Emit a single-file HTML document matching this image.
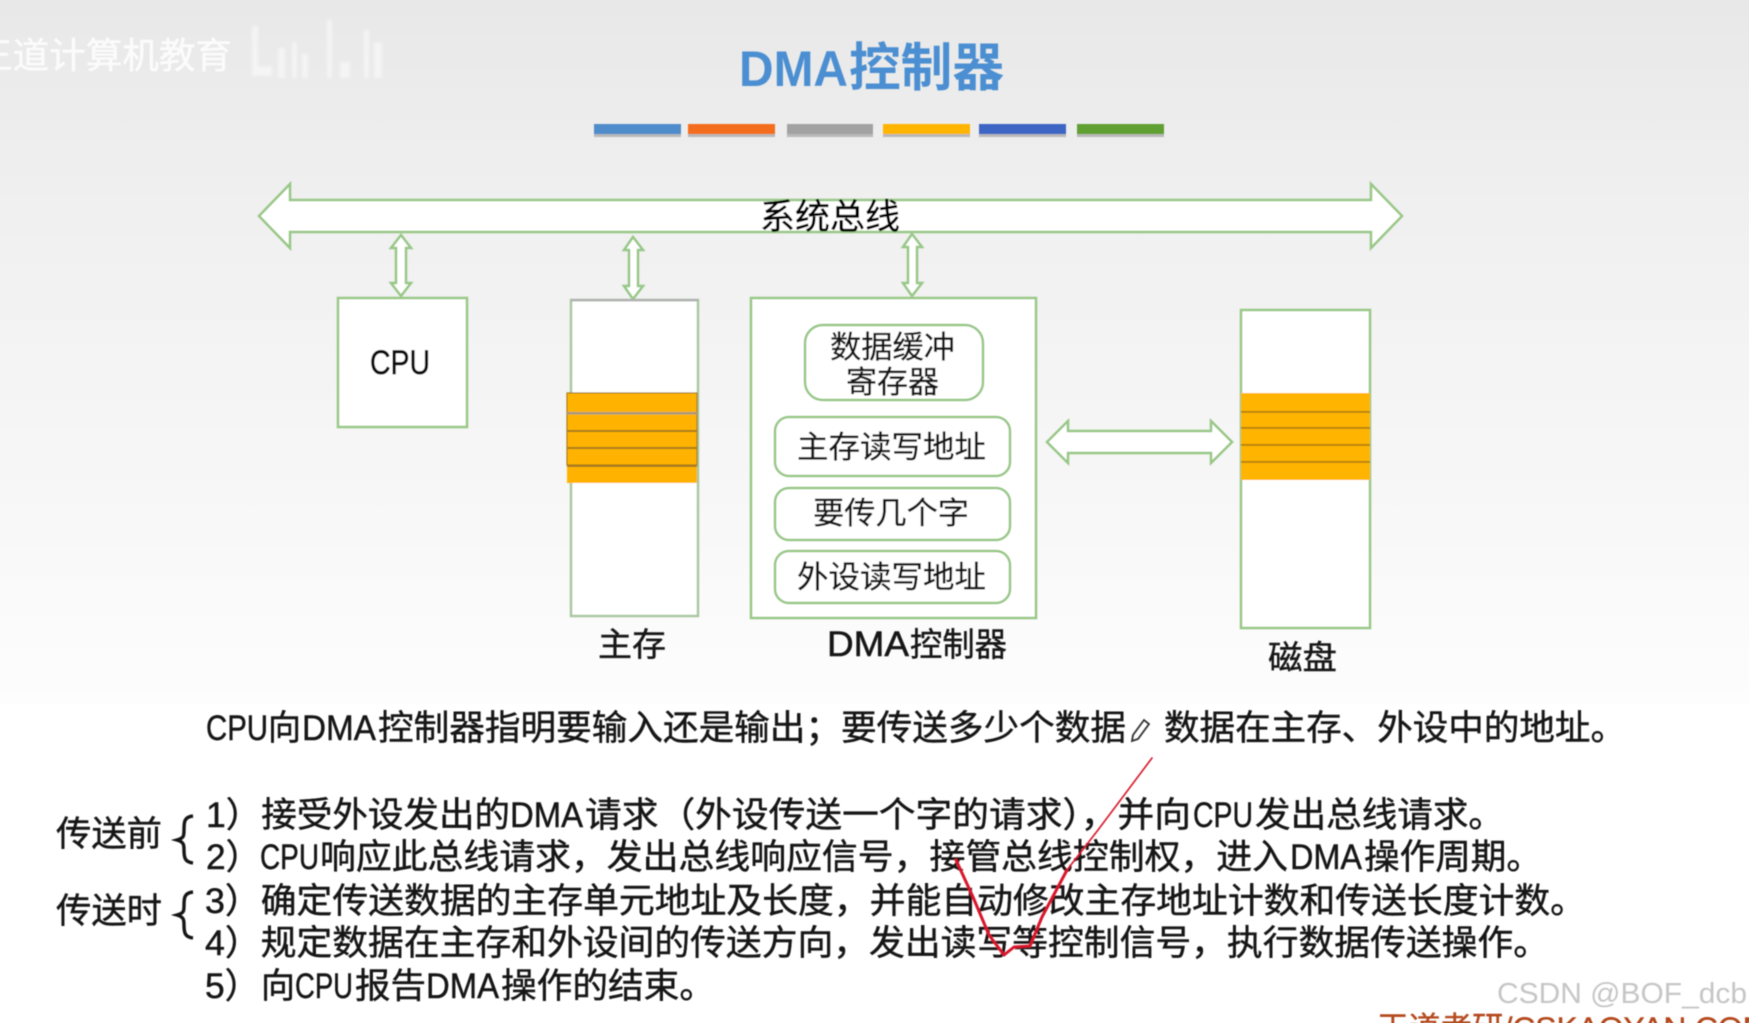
<!DOCTYPE html>
<html lang="zh">
<head>
<meta charset="utf-8">
<title>DMA控制器</title>
<style>
html,body{margin:0;padding:0;background:#fff;width:1749px;height:1023px;overflow:hidden}
svg{display:block}
text{font-family:"Liberation Sans","Noto Sans CJK SC",sans-serif;fill:#161616}
.t{font-size:35px;stroke:#161616;stroke-width:.45px}
.l{font-size:33px;stroke:#161616;stroke-width:.4px}
.b{font-size:31px;stroke:#222;stroke-width:.35px}
.s{fill:#fff;stroke:#97c786;stroke-width:2.5}
</style>
</head>
<body>
<svg width="1749" height="1023" viewBox="0 0 1749 1023" xmlns="http://www.w3.org/2000/svg">
<defs>
<linearGradient id="bg" x1="0" y1="0" x2="0" y2="1">
<stop offset="0" stop-color="#e8e8e8"/>
<stop offset=".3" stop-color="#f0f0f0"/>
<stop offset=".7" stop-color="#f7f7f7"/>
<stop offset="1" stop-color="#fdfdfd"/>
</linearGradient>
<filter id="soft" x="-5%" y="-5%" width="110%" height="110%"><feGaussianBlur stdDeviation="0.55"/></filter>
<filter id="smudge" x="-20%" y="-20%" width="140%" height="140%"><feGaussianBlur stdDeviation="1.4"/></filter>
</defs>

<rect width="1749" height="1023" fill="#fff"/>
<rect width="1749" height="704" fill="url(#bg)"/>

<g filter="url(#soft)">
<!-- watermark top-left -->
<text x="-24" y="68" font-size="36" style="fill:#fbfbfb;stroke:#fbfbfb;stroke-width:.5px" textLength="256" lengthAdjust="spacingAndGlyphs">王道计算机教育</text>
<g fill="#fafafa" opacity=".65" filter="url(#smudge)">
<rect x="252" y="26" width="6" height="50"/>
<rect x="258" y="66" width="14" height="10"/>
<rect x="278" y="48" width="7" height="30"/>
<rect x="292" y="42" width="5" height="36"/>
<rect x="302" y="54" width="6" height="24"/>
<rect x="327" y="20" width="5" height="58"/>
<rect x="340" y="62" width="10" height="16"/>
<rect x="364" y="30" width="5" height="48"/>
<rect x="374" y="42" width="8" height="36"/>
</g>

<!-- title -->
<text x="739" y="86" font-size="50" font-weight="700" style="fill:#4b8fd2" textLength="109" lengthAdjust="spacingAndGlyphs">DMA</text>
<text x="849" y="86" font-size="52" font-weight="700" style="fill:#4b8fd2" textLength="155" lengthAdjust="spacingAndGlyphs">控制器</text>

<!-- colour bars -->
<g>
<rect x="594" y="127" width="87" height="10" fill="#8d8d8d" opacity=".55"/>
<rect x="688" y="127" width="87" height="10" fill="#8d8d8d" opacity=".55"/>
<rect x="787" y="127" width="86" height="10" fill="#8d8d8d" opacity=".55"/>
<rect x="883" y="127" width="87" height="10" fill="#8d8d8d" opacity=".55"/>
<rect x="979" y="127" width="87" height="10" fill="#8d8d8d" opacity=".55"/>
<rect x="1077" y="127" width="87" height="10" fill="#8d8d8d" opacity=".55"/>
<rect x="594" y="124" width="87" height="10" fill="#4f8ccb"/>
<rect x="688" y="124" width="87" height="10" fill="#f46d1c"/>
<rect x="787" y="124" width="86" height="10" fill="#a2a2a2"/>
<rect x="883" y="124" width="87" height="10" fill="#ffb500"/>
<rect x="979" y="124" width="87" height="10" fill="#3e66c4"/>
<rect x="1077" y="124" width="87" height="10" fill="#609f30"/>
</g>

<!-- system bus -->
<polygon class="s" points="259,216 290,184 290,200 1371,200 1371,184 1402,216 1371,248 1371,232 290,232 290,248"/>
<text class="t" x="760" y="229" textLength="140" lengthAdjust="spacingAndGlyphs" style="fill:#000;stroke:#000">系统总线</text>

<!-- vertical arrows -->
<polygon class="s" points="401,235 411,248 406,248 406,283 411,283 401,296 391,283 396,283 396,248 391,248"/>
<polygon class="s" points="633,237 643,250 638,250 638,286 643,286 633,299 624,286 629,286 629,250 624,250"/>
<polygon class="s" points="912,234 922,247 917,247 917,283 922,283 912,296 903,283 908,283 908,247 903,247"/>

<!-- CPU -->
<rect class="s" x="338" y="298" width="129" height="129"/>
<text x="370" y="374" font-size="34" style="stroke:#111;stroke-width:.7px;fill:#111" textLength="60" lengthAdjust="spacingAndGlyphs">CPU</text>

<!-- main memory -->
<rect class="s" x="571" y="300" width="127" height="316" style="stroke:#a9c7a0"/>
<rect x="571" y="299" width="127" height="2.4" fill="#b0b0b0"/>
<rect x="567" y="393" width="130" height="90" fill="#ffb300"/>
<rect x="567" y="393" width="130" height="72" fill="none" stroke="#a87c1a" stroke-width="1.2"/>
<rect x="567" y="412" width="130" height="2.5" fill="#a79a7c"/>
<rect x="567" y="430" width="130" height="2" fill="#a87c1a"/>
<rect x="567" y="447" width="130" height="2" fill="#a87c1a"/>
<rect x="567" y="465" width="130" height="2" fill="#a87c1a"/>
<text class="l" x="598" y="656" textLength="68" lengthAdjust="spacingAndGlyphs">主存</text>

<!-- DMA controller -->
<rect class="s" x="751" y="298" width="285" height="320"/>
<rect class="s" x="805" y="325" width="178" height="75" rx="18"/>
<text class="b" x="830" y="358" textLength="125" lengthAdjust="spacingAndGlyphs">数据缓冲</text>
<text class="b" x="846" y="393" textLength="93" lengthAdjust="spacingAndGlyphs">寄存器</text>
<rect class="s" x="775" y="417" width="235" height="59" rx="14"/>
<text class="b" x="797" y="458" textLength="189" lengthAdjust="spacingAndGlyphs">主存读写地址</text>
<rect class="s" x="775" y="488" width="235" height="52" rx="14"/>
<text class="b" x="813" y="524" textLength="156" lengthAdjust="spacingAndGlyphs">要传几个字</text>
<rect class="s" x="775" y="551" width="235" height="52" rx="14"/>
<text class="b" x="797" y="588" textLength="189" lengthAdjust="spacingAndGlyphs">外设读写地址</text>
<text x="827" y="656" font-size="35" style="stroke:#111;stroke-width:.5px" textLength="82" lengthAdjust="spacingAndGlyphs">DMA</text>
<text class="l" x="910" y="656" textLength="97" lengthAdjust="spacingAndGlyphs">控制器</text>

<!-- horizontal double arrow -->
<polygon class="s" points="1047,442 1068,421 1068,431 1211,431 1211,421 1232,442 1211,463 1211,453 1068,453 1068,463"/>

<!-- disk -->
<rect class="s" x="1241" y="310" width="129" height="318"/>
<rect x="1241" y="393" width="129" height="87" fill="#ffb500"/>
<rect x="1241" y="411" width="129" height="1.8" fill="#b37f10"/>
<rect x="1241" y="427" width="129" height="1.8" fill="#b37f10"/>
<rect x="1241" y="444" width="129" height="1.8" fill="#b37f10"/>
<rect x="1241" y="461" width="129" height="1.8" fill="#b37f10"/>
<text class="l" x="1268" y="669" textLength="69" lengthAdjust="spacingAndGlyphs">磁盘</text>

<!-- line 0 -->
<text class="t" x="206" y="740" textLength="62" lengthAdjust="spacingAndGlyphs">CPU</text>
<text class="t" x="268" y="740" textLength="33" lengthAdjust="spacingAndGlyphs">向</text>
<text class="t" x="302" y="740" textLength="74" lengthAdjust="spacingAndGlyphs">DMA</text>
<text class="t" x="378" y="740" textLength="748" lengthAdjust="spacingAndGlyphs">控制器指明要输入还是输出；要传送多少个数据</text>
<text class="t" x="1164" y="740" textLength="462" lengthAdjust="spacingAndGlyphs">数据在主存、外设中的地址。</text>
<!-- pencil cursor -->
<path d="M1133,735 L1144,720 L1149,724 L1138,739 L1132,741 Z" fill="none" stroke="#333" stroke-width="1.8"/>

<!-- line 1 -->
<text class="t" x="206" y="827" textLength="304" lengthAdjust="spacingAndGlyphs">1）接受外设发出的</text>
<text class="t" x="510" y="827" textLength="73" lengthAdjust="spacingAndGlyphs">DMA</text>
<text class="t" x="585" y="827" textLength="606" lengthAdjust="spacingAndGlyphs">请求（外设传送一个字的请求），并向</text>
<text class="t" x="1193" y="827" textLength="60" lengthAdjust="spacingAndGlyphs">CPU</text>
<text class="t" x="1255" y="827" textLength="249" lengthAdjust="spacingAndGlyphs">发出总线请求。</text>

<!-- line 2 -->
<text class="t" x="206" y="869" textLength="55" lengthAdjust="spacingAndGlyphs">2）</text>
<text class="t" x="260" y="869" textLength="59" lengthAdjust="spacingAndGlyphs">CPU</text>
<text class="t" x="320" y="869" textLength="968" lengthAdjust="spacingAndGlyphs">响应此总线请求，发出总线响应信号，接管总线控制权，进入</text>
<text class="t" x="1290" y="869" textLength="72" lengthAdjust="spacingAndGlyphs">DMA</text>
<text class="t" x="1364" y="869" textLength="178" lengthAdjust="spacingAndGlyphs">操作周期。</text>

<!-- line 3 -->
<text class="t" x="205" y="913" textLength="1381" lengthAdjust="spacingAndGlyphs">3）确定传送数据的主存单元地址及长度，并能自动修改主存地址计数和传送长度计数。</text>

<!-- line 4 -->
<text class="t" x="205" y="955" textLength="1344" lengthAdjust="spacingAndGlyphs">4）规定数据在主存和外设间的传送方向，发出读写等控制信号，执行数据传送操作。</text>

<!-- line 5 -->
<text class="t" x="205" y="998" textLength="55" lengthAdjust="spacingAndGlyphs">5）</text>
<text class="t" x="261" y="998" textLength="34" lengthAdjust="spacingAndGlyphs">向</text>
<text class="t" x="295" y="998" textLength="58" lengthAdjust="spacingAndGlyphs">CPU</text>
<text class="t" x="355" y="998" textLength="71" lengthAdjust="spacingAndGlyphs">报告</text>
<text class="t" x="426" y="998" textLength="73" lengthAdjust="spacingAndGlyphs">DMA</text>
<text class="t" x="501" y="998" textLength="214" lengthAdjust="spacingAndGlyphs">操作的结束。</text>

<!-- left labels and braces -->
<text class="t" x="56" y="846" textLength="106" lengthAdjust="spacingAndGlyphs">传送前</text>
<text class="t" x="56" y="923" textLength="106" lengthAdjust="spacingAndGlyphs">传送时</text>
<path d="M193,816 C184,817 184,822 184,830 C184,836 184,838 177,840 C184,842 184,845 184,850 C184,858 185,862 193,863" fill="none" stroke="#161616" stroke-width="3.4"/>
<path d="M193,892 C184,893 184,898 184,906 C184,911 184,913 177,915 C184,917 184,920 184,925 C184,933 185,937 193,938" fill="none" stroke="#161616" stroke-width="3.4"/>

<!-- red check mark -->
<path d="M956,860 L973,897 L989,935 L1004,955 L1014,947 L1030,946 L1042,917 L1067,870" fill="none" stroke="#d8142c" stroke-width="3" stroke-linejoin="round" stroke-linecap="round"/>
<path d="M1067,870 L1098,830 L1152,758" fill="none" stroke="#d8142c" stroke-width="1.6" stroke-linecap="round"/>

<!-- bottom watermarks -->
<text x="1497" y="1003" font-size="29" style="fill:#c6c6c6" textLength="250" lengthAdjust="spacingAndGlyphs">CSDN @BOF_dcb</text>
<text x="1377" y="1038" font-size="30" style="fill:#b4491f;stroke:#b4491f;stroke-width:.4px" textLength="392" lengthAdjust="spacingAndGlyphs">王道考研/CSKAOYAN.COM</text>
</g>
</svg>
</body>
</html>
